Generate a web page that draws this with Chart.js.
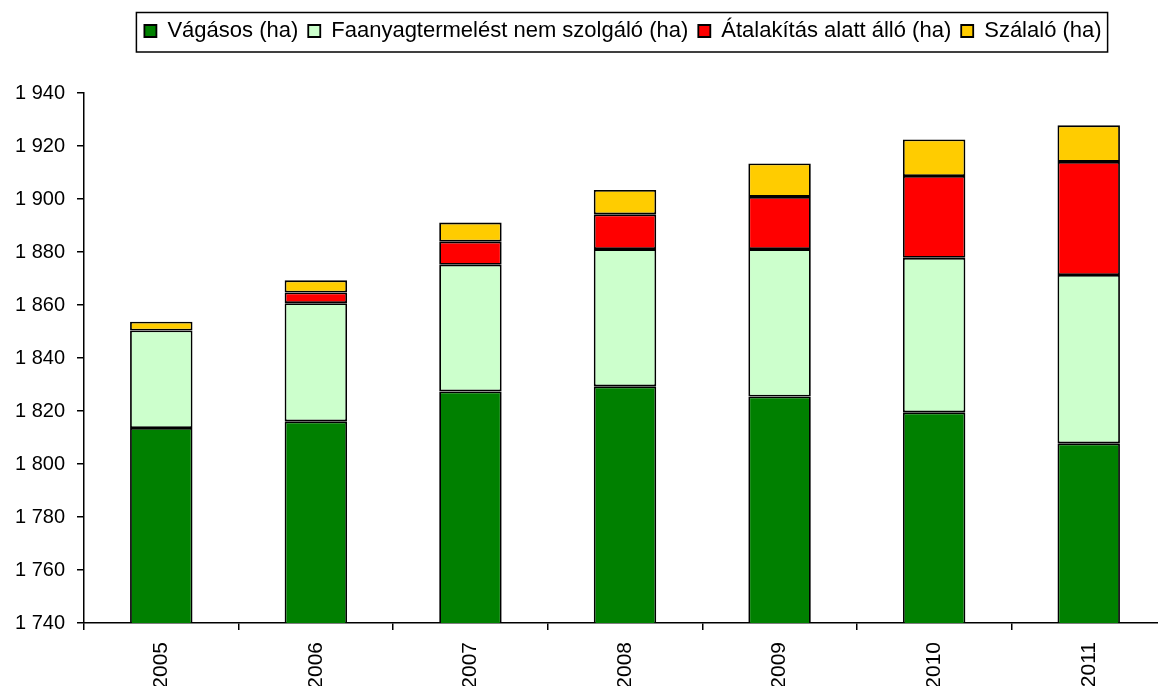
<!DOCTYPE html>
<html>
<head>
<meta charset="utf-8">
<script src="https://cdn.jsdelivr.net/npm/chart.js@4"></script>
<style>
  html, body { margin: 0; padding: 0; background: #fff; overflow: hidden; }
  #wrap { width: 1166px; height: 686px; position: relative; }
</style>
</head>
<body>
<div id="wrap"><canvas id="grafica"></canvas></div>
<script>
const years = ["2005", "2006", "2007", "2008", "2009", "2010", "2011"];
const vagasos = [1813.6, 1816.1, 1827.4, 1829.3, 1825.5, 1819.5, 1807.8];
const faanyag = [36.8, 44.6, 47.8, 51.8, 55.6, 58.3, 63.5];
const atalakitas = [0, 4.0, 8.7, 13.1, 19.7, 30.9, 42.7];
const szalalo = [3.3, 4.6, 7.2, 9.2, 12.6, 13.8, 13.8];

const betu = "'Liberation Sans', Arial, sans-serif";

// jelmagyarazat: magassag, eltolas es keret
const keretPlugin = {
    id: "keret",
    beforeLayout(chart) {
        const lg = chart.legend;
        if (lg && !lg._javitva) {
            const eredeti = lg.fit.bind(lg);
            lg.fit = function() {
                eredeti();
                this.height = 83;
            };
            lg._javitva = true;
        }
    },
    afterLayout(chart) {
        const lg = chart.legend;
        lg.left += 40;
        lg.right += 40;
    },
    afterDraw(chart) {
        const lg = chart.legend;
        const c = chart.ctx;
        const pad = lg.options.labels.padding;
        const w = lg.lineWidths[0];
        const sx = (lg.left + pad + lg.right - w) / 2;
        c.save();
        c.strokeStyle = "#000";
        c.lineWidth = 1.5;
        c.strokeRect(sx - 8, lg.top + 2.5, w - pad + 14, 39.5);
        c.restore();
    }
};

const ctx = document.getElementById("grafica").getContext("2d");
const grafica = new Chart(ctx, {
    type: "bar",
    data: {
        labels: years,
        datasets: [
            { label: "Vágásos (ha)", data: vagasos, backgroundColor: "#008000" },
            { label: "Faanyagtermelést nem szolgáló (ha)", data: faanyag, backgroundColor: "#CCFFCC" },
            { label: "Átalakítás alatt álló (ha)", data: atalakitas, backgroundColor: "#FF0000" },
            { label: "Szálaló (ha)", data: szalalo, backgroundColor: "#FFCC00" }
        ].map(d => Object.assign(d, {
            borderColor: "#000",
            borderWidth: 1.8,
            borderSkipped: false,
            categoryPercentage: 1,
            barPercentage: 0.404
        }))
    },
    options: {
        animation: false,
        responsive: true,
        maintainAspectRatio: false,
        layout: { padding: { top: 10, left: 0, right: 0, bottom: 0 } },
        plugins: {
            tooltip: { enabled: false },
            legend: {
                position: "top",
                labels: {
                    color: "#000",
                    font: { family: betu, size: 22 },
                    boxWidth: 12,
                    boxHeight: 12,
                    padding: 10
                }
            }
        },
        scales: {
            x: {
                stacked: true,
                offset: true,
                border: { color: "#000", width: 1.5 },
                grid: { display: true, drawOnChartArea: false, tickLength: 7, color: "#000", lineWidth: 1.5, offset: true },
                ticks: {
                    color: "#000",
                    font: { family: betu, size: 21 },
                    minRotation: 90,
                    maxRotation: 90,
                    padding: 12
                },
                afterFit: s => { s.height = 63; }
            },
            y: {
                stacked: true,
                min: 1740,
                max: 1940,
                border: { color: "#000", width: 1.5 },
                grid: { display: true, drawOnChartArea: false, tickLength: 7, color: "#000", lineWidth: 1.5 },
                ticks: {
                    stepSize: 20,
                    color: "#000",
                    font: { family: betu, size: 20 },
                    padding: 12,
                    callback: v => String(v).replace(/\B(?=(\d{3})+(?!\d))/g, " ")
                },
                afterFit: s => { s.width = 84; }
            }
        }
    },
    plugins: [keretPlugin]
});
</script>
</body>
</html>
